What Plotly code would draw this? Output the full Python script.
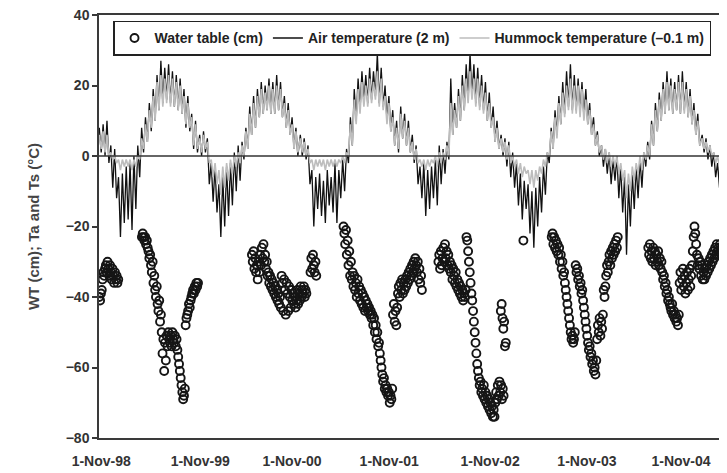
import pandas as pd
import plotly.graph_objects as go

# ---------------- data ----------------
# weekly air temperature (2 m) and hummock temperature (-0.1 m), one list per year starting 1 Nov
year_starts = ["1998-11-01", "1999-11-01", "2000-11-01", "2001-11-01",
               "2002-11-01", "2003-11-01", "2004-11-01"]

air_9899 = [8, 1, 9, 0, 10, -2, 3, -9, 2, -12, -6, -23, -5, -19, -3, -18, -2, -21, 0, -15,
            3, -6, 8, 1, 11, 4, 15, 7, 19, 10, 23, 13, 27, 15, 25, 16, 26, 15, 24,
            14, 23, 13, 22, 12, 19, 8, 17, 7, 12, 2, 10, 1]
air_9900 = [6, 0, 7, 1, 5, -8, -2, -13, -3, -16, -8, -23, -6, -20, -3, -17, -2, -14, 1, -10,
            3, -7, 4, -1, 8, 2, 14, 6, 17, 8, 19, 11, 21, 12, 20, 13, 22, 12, 21,
            12, 23, 13, 21, 11, 17, 8, 15, 6, 11, 2, 8, 0]
air_0001 = [6, 0, 5, -1, 3, -8, -4, -20, -6, -15, -5, -17, -7, -19, -4, -14, -6, -16, -2, -19,
            -4, -12, -1, -10, 2, -2, 11, 3, 19, 10, 22, 13, 24, 15, 23, 15, 25, 16, 24,
            17, 29, 15, 25, 14, 20, 10, 17, 7, 13, 3, 10, 1]
air_0102 = [14, 5, 12, 3, 10, 1, 6, -2, 3, -8, -3, -12, -2, -17, -4, -15, -3, -12, -1, -14,
            3, -8, 2, -5, 4, -1, 22, 6, 15, 8, 19, 10, 23, 13, 26, 16, 29, 17, 26,
            15, 25, 14, 23, 13, 21, 10, 18, 8, 14, 4, 10, 2]
air_0203 = [6, 0, 5, -3, 4, -6, 1, -9, -2, -14, -5, -18, -7, -15, -8, -22, -10, -26, -9, -20,
            -6, -16, -3, -11, 1, -2, 8, 2, 13, 6, 17, 9, 21, 12, 24, 14, 26, 13, 23,
            13, 22, 12, 21, 11, 19, 9, 15, 6, 11, 3, 7, 0]
air_0304 = [3, -3, 2, -5, 1, -8, -1, -7, 0, -12, -3, -16, -6, -28, -8, -20, -5, -15, -3, -12,
            -1, -9, 1, -3, 4, -1, 10, 3, 15, 7, 18, 10, 21, 12, 24, 13, 22, 12, 21,
            13, 23, 12, 24, 13, 21, 11, 19, 9, 15, 6, 12, 3]
air_0405 = [6, 1, 5, -1, 3, -3, 1, -6, -2, -9, -5, -16, -8]

hum_9899 = [6, 2, 7, 1, 6, 0, 1, -1, 0, -2, -1, -4, -1, -3, -1, -3, -1, -4, -1, -3,
            0, -1, 5, 2, 9, 4, 13, 8, 17, 10, 21, 13, 23, 14, 22, 15, 23, 14, 22,
            14, 21, 13, 20, 12, 17, 9, 15, 8, 11, 3, 9, 2]
hum_9900 = [5, 1, 6, 2, 4, -2, -1, -6, -2, -8, -4, -11, -3, -9, -2, -7, -1, -5, 0, -3,
            1, -2, 3, 0, 7, 2, 12, 6, 15, 8, 17, 11, 19, 12, 18, 13, 20, 12, 19,
            12, 20, 13, 19, 11, 15, 8, 13, 6, 9, 2, 7, 1]
hum_0001 = [5, 1, 4, 0, 2, -2, -1, -4, -1, -3, -1, -3, -1, -4, -1, -3, -1, -3, -1, -3,
            -1, -2, 0, -2, 1, 0, 9, 3, 16, 9, 19, 12, 21, 14, 20, 14, 22, 15, 21,
            16, 24, 14, 22, 13, 17, 9, 15, 7, 11, 3, 8, 2]
hum_0102 = [12, 5, 10, 3, 8, 1, 4, -1, 2, -2, -1, -3, -1, -4, -1, -3, -1, -2, 0, -3,
            1, -2, 1, -1, 3, 0, 15, 6, 13, 8, 17, 10, 20, 13, 22, 15, 24, 16, 22,
            14, 22, 13, 20, 12, 18, 10, 15, 8, 11, 4, 8, 2]
hum_0203 = [5, 1, 4, -1, 3, -2, 0, -3, -1, -5, -2, -6, -3, -5, -4, -8, -4, -9, -4, -7,
            -3, -5, -1, -3, 1, 0, 7, 2, 11, 5, 15, 9, 18, 11, 20, 13, 22, 12, 20,
            12, 20, 11, 19, 10, 16, 9, 13, 6, 9, 3, 6, 1]
hum_0304 = [3, -1, 2, -2, 1, -3, 0, -3, 0, -5, -2, -7, -4, -12, -5, -10, -3, -7, -2, -5,
            0, -4, 1, -1, 3, 0, 9, 3, 13, 7, 16, 10, 19, 12, 21, 13, 20, 12, 19,
            13, 21, 12, 21, 12, 19, 11, 17, 9, 13, 6, 10, 3]
hum_0405 = [5, 2, 4, 1, 3, 0, 1, -2, 0, -3, -1, -5, -2]

air_years = [air_9899, air_9900, air_0001, air_0102, air_0203, air_0304, air_0405]
hum_years = [hum_9899, hum_9900, hum_0001, hum_0102, hum_0203, hum_0304, hum_0405]

# water table (cm), readings every 3 days within each measured period
wt_a = [-40, -41, -39, -38, -35, -33, -34, -32, -31, -33, -30, -32, -34, -31, -33, -35,
        -32, -34, -36, -33, -35, -34, -36, -35]
wt_b = [-23, -22, -23, -24, -23, -25, -24, -26, -27, -29, -28, -31, -33, -30, -36, -34,
        -38, -40, -37, -42, -44, -41, -47, -45, -50, -56, -52, -61, -53, -58, -51, -54,
        -50, -52, -53, -51, -54, -50, -52, -53, -51, -54, -52, -55, -57, -59, -61, -63,
        -65, -67, -69, -68, -66, -48, -46, -45, -44, -42, -43, -41, -40, -39, -38, -39,
        -37, -38, -36, -37, -36]
wt_c = [-28, -30, -27, -32, -29, -33, -31, -35, -30, -33, -28, -31, -26, -29, -25, -30,
        -28, -32, -30, -34, -33, -36, -34, -37, -35, -38, -36, -39, -37, -40, -38, -41,
        -39, -42, -40, -43, -34, -36, -44, -35, -38, -45, -36, -39, -44, -37, -40, -43,
        -38, -41, -39, -42, -40, -43, -41, -38, -42, -39, -41, -37, -40, -38, -39, -37,
        -40, -38, -39]
wt_c2 = [-33, -29, -32, -28, -31, -33, -30, -34]
wt_d = [-20, -22, -25, -21, -28, -24, -31, -27, -34, -30, -35, -33, -37, -34, -38, -36,
        -40, -35, -39, -37, -41, -38, -42, -39, -43, -40, -44, -41, -43, -42, -44, -43,
        -45, -44, -46, -45, -48, -46, -50, -48, -52, -50, -54, -53, -56, -58, -60, -62,
        -64, -63, -66, -65, -67, -66, -68, -67, -70, -68, -69, -66, -45, -42, -47, -44,
        -48, -43, -39, -37, -40, -36, -38, -35, -39, -36, -38, -35, -37, -34, -36, -33,
        -35, -32, -34, -31, -33, -30, -32, -29, -31, -33, -30, -35, -32, -36, -34, -38]
wt_e = [-30, -28, -32, -27, -31, -29, -26, -30, -25, -29, -27, -31, -28, -32, -30, -33,
        -31, -35, -32, -34, -36, -33, -37, -35, -38, -36, -39, -37, -40, -38, -41, -39,
        -40, -38, -23, -24, -27, -30, -33, -36, -39, -41, -44, -47, -50, -53, -56, -59,
        -61, -63, -65, -64, -67, -66, -68, -65, -69, -67, -70, -68, -71, -69, -72, -70,
        -73, -71, -74, -72, -74, -70, -67, -69, -65, -68, -64, -67, -65, -69, -66, -68]
wt_e2 = [-44, -42, -46, -49, -47, -54, -53]
wt_e3 = [-24]
wt_f = [-23, -22, -25, -23, -26, -24, -27, -25, -28, -26, -30, -28, -32, -30, -34, -33,
        -36, -38, -40, -42, -44, -46, -48, -50, -52, -51, -53, -52, -50, -31, -33, -32,
        -35, -34, -37, -36, -39, -38, -41, -43, -45, -47, -49, -51, -53, -55, -54, -57,
        -56, -59, -58, -61, -60, -62, -58, -52, -48, -50, -46, -51, -47, -49, -45, -38,
        -40, -37, -34, -31, -33, -30, -28, -31, -27, -29, -26, -28, -25, -27, -24, -26, -23]
wt_g = [-26, -28, -25, -29, -27, -30, -26, -29, -27, -31, -28, -30, -27, -31, -29, -32,
        -30, -33, -35, -34, -37, -36, -39, -38, -41, -40, -42, -43, -44, -42, -45, -44,
        -46, -45, -47, -46, -48, -45, -36, -33, -38, -35, -32, -37, -34, -39, -36, -33,
        -38, -35, -32, -37, -34, -31, -27, -23, -20, -22, -25, -28, -31, -29, -32, -30,
        -34, -31, -35, -33, -35, -32, -34, -31, -33, -30, -32, -29, -31, -28, -30, -27,
        -29, -26, -28, -25, -27, -26, -28, -25, -27, -26, -28, -25, -27]

wt_segments = [wt_a, wt_b, wt_c, wt_c2, wt_d, wt_e, wt_e2, wt_e3, wt_f, wt_g]
wt_starts = ["1998-11-01", "1999-04-05", "2000-05-09", "2000-12-08", "2001-04-07",
             "2002-03-18", "2002-10-31", "2003-01-21", "2003-05-04", "2004-04-19"]

# label positions as printed under the reference axis
tick_dates = ["1998-11-08", "1999-11-03", "2000-10-02", "2001-09-20",
              "2002-09-22", "2003-09-09", "2004-08-16"]
tick_labels = ["1-Nov-98", "1-Nov-99", "1-Nov-00", "1-Nov-01",
               "1-Nov-02", "1-Nov-03", "1-Nov-04"]

# ---------------- build series ----------------
def series(starts, blocks, step):
    xs, ys = [], []
    for s, v in zip(starts, blocks):
        xs += list(pd.date_range(s, periods=len(v), freq=step))
        ys += list(v)
    return xs, ys

air_x, air_y = series(year_starts, air_years, "7D")
hum_x, hum_y = series(year_starts, hum_years, "7D")
wt_x, wt_y = series(wt_starts, wt_segments, "3D")

FONT = "Liberation Sans, Arial, sans-serif"

fig = go.Figure()
fig.add_trace(go.Scatter(
    x=wt_x, y=wt_y, mode="markers", name="Water table (cm)",
    marker=dict(symbol="circle-open", size=8, color="#151515", line=dict(width=1.9)),
))
fig.add_trace(go.Scatter(
    x=air_x, y=air_y, mode="lines", name="Air temperature (2 m)",
    line=dict(color="#111111", width=1.3),
))
fig.add_trace(go.Scatter(
    x=hum_x, y=hum_y, mode="lines", name="Hummock temperature (\u20130.1 m)",
    line=dict(color="#bdbdbd", width=1.6),
))

fig.add_shape(type="line", xref="paper", x0=0, x1=1, yref="y", y0=0, y1=0,
              line=dict(color="#333333", width=1.5), layer="above")

# the page body adds an 8 px offset, so the figure is 8 px smaller and margins shifted
fig.update_layout(
    width=719, height=465,
    margin=dict(l=91, r=2, t=7, b=35),
    paper_bgcolor="white", plot_bgcolor="white",
    font=dict(family=FONT, color="#333333"),
    showlegend=True,
    legend=dict(
        orientation="h", x=0.0224, y=0.986, xanchor="left", yanchor="top",
        bgcolor="white", bordercolor="#222222", borderwidth=1.5,
        font=dict(family=FONT, size=14, color="#222222", weight="bold"),
        itemwidth=30, tracegroupgap=0,
    ),
    xaxis=dict(
        type="date", range=["1998-10-31", "2005-01-23"], automargin=False,
        showgrid=False, zeroline=False,
        showline=True, mirror=True, linecolor="#3a3a3a", linewidth=1.5,
        ticks="", tickvals=tick_dates, ticktext=tick_labels,
        tickfont=dict(family=FONT, size=14, color="#333333", weight="bold"),
        ticklabelstandoff=9, ticklabeloverflow="allow",
    ),
    yaxis=dict(
        range=[-80, 40], tick0=-80, dtick=20, automargin=False,
        showgrid=False, zeroline=False,
        showline=True, mirror=True, linecolor="#3a3a3a", linewidth=1.5,
        ticks="outside", ticklen=5, tickwidth=1.5, tickcolor="#3a3a3a",
        tickfont=dict(family=FONT, size=14, color="#333333", weight="bold"),
        ticklabeloverflow="allow",
        title=dict(text="WT (cm); Ta and Ts (\u00b0C)",
                   font=dict(family=FONT, size=15, color="#444444", weight="bold"),
                   standoff=22),
    ),
)

fig.write_html("out.html")
